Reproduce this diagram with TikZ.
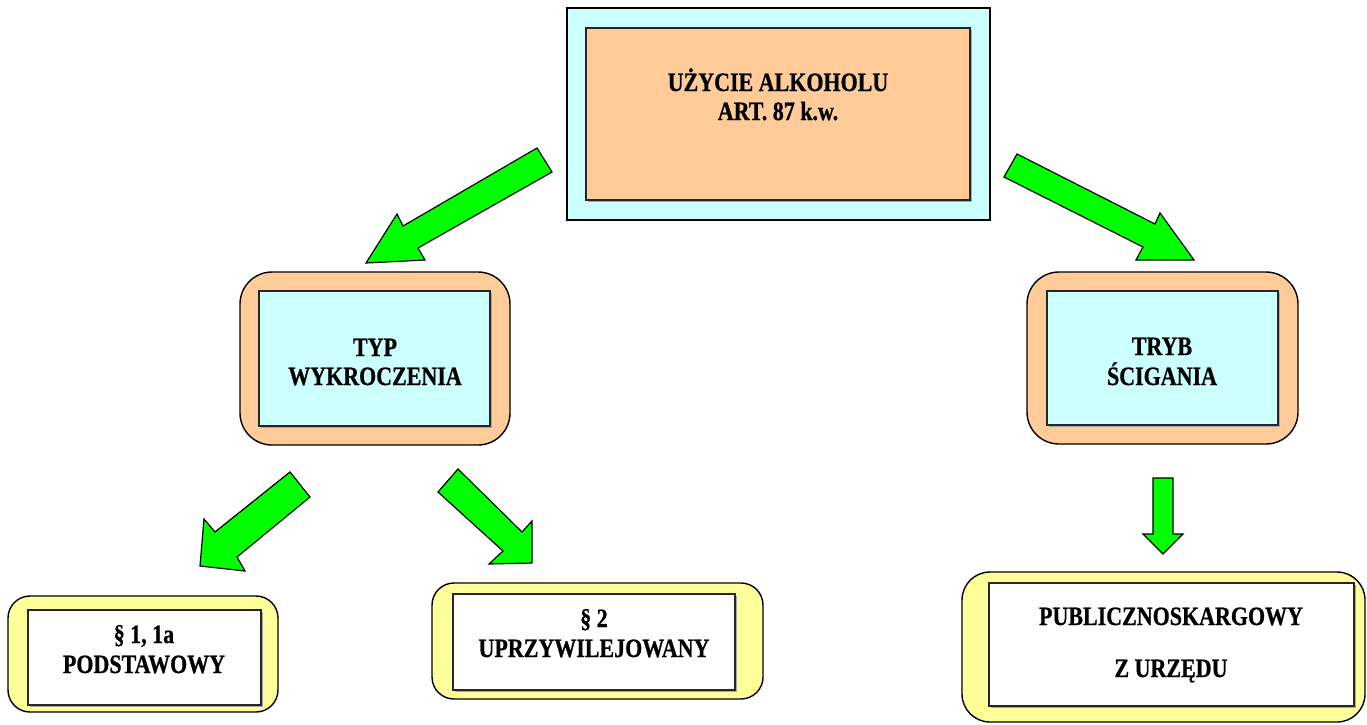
\documentclass[tikz,border=0pt]{standalone}
\usepackage{fontspec}
\setmainfont{Liberation Serif}[FakeStretch=0.83, BoldFeatures={FakeBold=0.7}]
\definecolor{cyanL}{HTML}{CCFFFF}
\definecolor{orangeL}{HTML}{FFCC99}
\definecolor{yellowL}{HTML}{FFFF99}
\definecolor{greenA}{HTML}{00FF00}
\tikzset{
  outerbox/.style={draw=black, line width=1.4pt},
  innerbox/.style={draw=black!85, line width=1.1pt},
  shadowbox/.style={fill=black!35, draw=none},
  blockarrow/.style={fill=greenA, draw=black, line width=1.2pt, line join=miter},
  lbl/.style={anchor=base, inner sep=0pt, font=\fontsize{26.5}{29}\selectfont\bfseries}
}
\begin{document}
\begin{tikzpicture}[x=1pt,y=-1pt]
\useasboundingbox (0,0) rectangle (1367,724);

% top box
\draw[outerbox, fill=cyanL] (567,8) rectangle (990,220);
\fill[shadowbox] (588,30) rectangle (972,202);
\draw[innerbox, fill=orangeL] (586,28) rectangle (970,200);
\node[lbl] (t1a) at (778,91) {UŻYCIE ALKOHOLU};
\node[lbl] (t1b) at (778,120) {ART. 87 k.w.};

% TYP box
\draw[outerbox, fill=orangeL, rounded corners=32pt] (240,272) rectangle (510,445);
\fill[shadowbox] (261,293) rectangle (492,428);
\draw[innerbox, fill=cyanL] (259,291) rectangle (490,426);
\node[lbl] (t2a) at (375,356) {TYP};
\node[lbl] (t2b) at (375,385) {WYKROCZENIA};

% TRYB box
\draw[outerbox, fill=orangeL, rounded corners=32pt] (1027,272) rectangle (1298,444);
\fill[shadowbox] (1049,293) rectangle (1280,427);
\draw[innerbox, fill=cyanL] (1047,291) rectangle (1278,425);
\node[lbl] (t3a) at (1162,355) {TRYB};
\node[lbl] (t3b) at (1162,385) {ŚCIGANIA};

% bottom-left box
\draw[outerbox, fill=yellowL, rounded corners=22pt] (8,596) rectangle (278,712);
\fill[shadowbox] (30,612) rectangle (263,707);
\draw[innerbox, fill=white] (28,610) rectangle (261,705);
\node[lbl] (t4a) at (144,643) {§ 1, 1a};
\node[lbl] (t4b) at (144,673) {PODSTAWOWY};

% bottom-middle box
\draw[outerbox, fill=yellowL, rounded corners=22pt] (432,583) rectangle (763,699);
\fill[shadowbox] (455,596) rectangle (737,692);
\draw[innerbox, fill=white] (453,594) rectangle (735,690);
\node[lbl] (t5a) at (594,627) {§ 2};
\node[lbl] (t5b) at (594,657) {UPRZYWILEJOWANY};

% bottom-right box
\draw[outerbox, fill=yellowL, rounded corners=28pt] (962,572) rectangle (1365,722);
\fill[shadowbox] (991,585) rectangle (1356,708);
\draw[innerbox, fill=white] (989,583) rectangle (1354,706);
\node[lbl] (t6a) at (1171,625) {PUBLICZNOSKARGOWY};
\node[lbl] (t6b) at (1171,677) {Z URZĘDU};

% block arrows
\draw[blockarrow] (537,148) -- (552,172) -- (418,248) -- (425,260) -- (366,263) -- (397,214) -- (403,226) -- cycle;
\draw[blockarrow] (1017,154) -- (1155,224) -- (1160,213) -- (1194,260) -- (1136,260) -- (1143,247) -- (1004,177) -- cycle;
\draw[blockarrow] (290,472) -- (215,532) -- (204,519) -- (200,566) -- (245,571) -- (237,557) -- (310,497) -- cycle;
\draw[blockarrow] (458,469) -- (522,532) -- (532,521) -- (532,563) -- (489,564) -- (503,551) -- (438,492) -- cycle;
\draw[blockarrow] (1153,478) -- (1173,478) -- (1173,534) -- (1183,534) -- (1163,554) -- (1143,534) -- (1153,534) -- cycle;
\end{tikzpicture}
\end{document}
